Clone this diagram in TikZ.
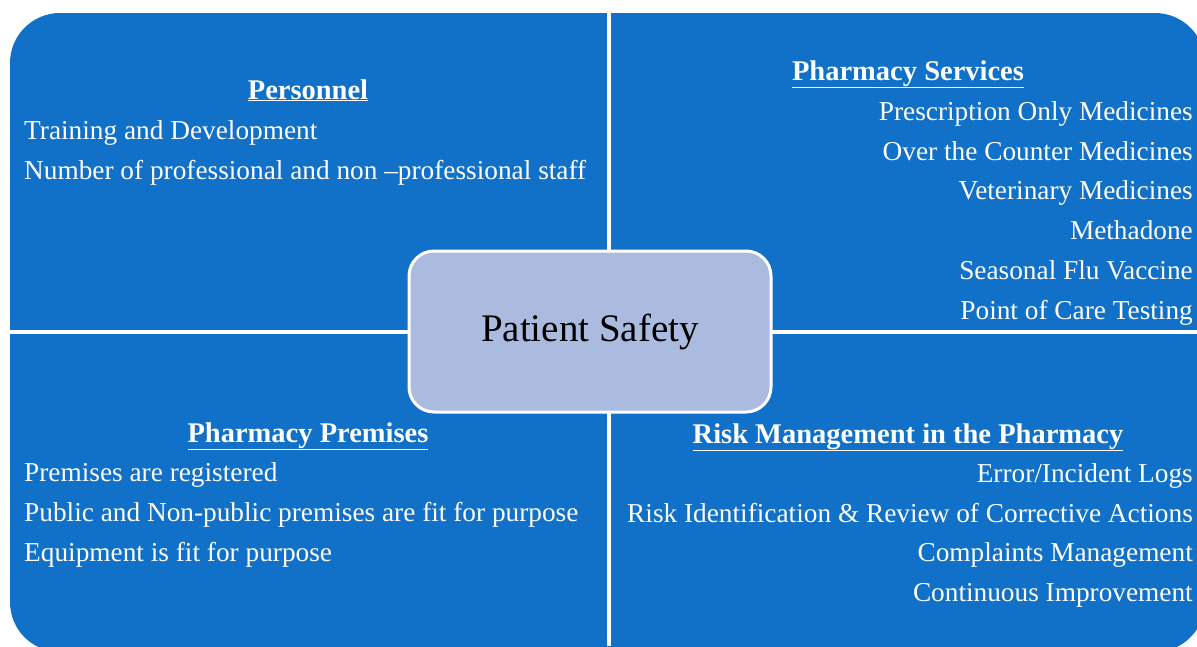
\documentclass[tikz,border=0pt]{standalone}
\usepackage{fontspec}
\setmainfont{Liberation Serif}
\definecolor{quadblue}{RGB}{17,112,199}
\definecolor{hubfill}{RGB}{171,187,224}
\begin{document}
\begin{tikzpicture}
[x=1pt,y=-1pt,
  titledecorate/.style={text=white,inner sep=0pt,anchor=base,
    font=\fontsize{28.5}{33}\selectfont\bfseries},%
  leftdecorate/.style={text=white,inner sep=0pt,anchor=base west,
    font=\fontsize{27.3}{32}\selectfont},%
  rightdecorate/.style={leftdecorate,anchor=base east},%
  hubdecorate/.style={shape=rectangle,rounded corners=25pt,fill=hubfill,
    draw=white,line width=3pt,minimum width=362pt,minimum height=161pt,
    font=\fontsize{39}{45}\selectfont}]
\clip (0,0) rectangle (1197,646);
\fill[white] (0,0) rectangle (1197,646);
%% blue panel, split in four by white gaps
\fill[quadblue,rounded corners=50pt] (10,13) rectangle (1205,652);
\draw[white,line width=4pt] (609,0) -- (609,646);
\draw[white,line width=4pt] (0,332) -- (1197,332);
%% top left
\node (pers) at (308,99) [titledecorate] {\underline{Personnel}};
\node (pers1) at (24,139) [leftdecorate] {Training and Development};
\node (pers2) at (24,179) [leftdecorate] {Number of professional and non –professional staff};
%% top right
\node (serv) at (908,80) [titledecorate] {\underline{Pharmacy Services}};
\node (serv1) at (1193,120) [rightdecorate] {Prescription Only Medicines};
\node (serv2) at (1193,160) [rightdecorate] {Over the Counter Medicines};
\node (serv3) at (1193,199) [rightdecorate] {Veterinary Medicines};
\node (serv4) at (1193,239) [rightdecorate] {Methadone};
\node (serv5) at (1193,279) [rightdecorate] {Seasonal Flu Vaccine};
\node (serv6) at (1193,319) [rightdecorate] {Point of Care Testing};
%% bottom left
\node (prem) at (308,442) [titledecorate] {\underline{Pharmacy Premises}};
\node (prem1) at (24,481) [leftdecorate] {Premises are registered};
\node (prem2) at (24,521) [leftdecorate] {Public and Non-public premises are fit for purpose};
\node (prem3) at (24,561) [leftdecorate] {Equipment is fit for purpose};
%% bottom right
\node (risk) at (908,443) [titledecorate] {\underline{Risk Management in the Pharmacy}};
\node (risk1) at (1193,482) [rightdecorate] {Error/Incident Logs};
\node (risk2) at (1193,522) [rightdecorate] {Risk Identification \& Review of Corrective Actions};
\node (risk3) at (1193,561) [rightdecorate] {Complaints Management};
\node (risk4) at (1193,601) [rightdecorate] {Continuous Improvement};
%% centre box
\node (hub) at (590,331.5) [hubdecorate] {Patient Safety};
\end{tikzpicture}
\end{document}
